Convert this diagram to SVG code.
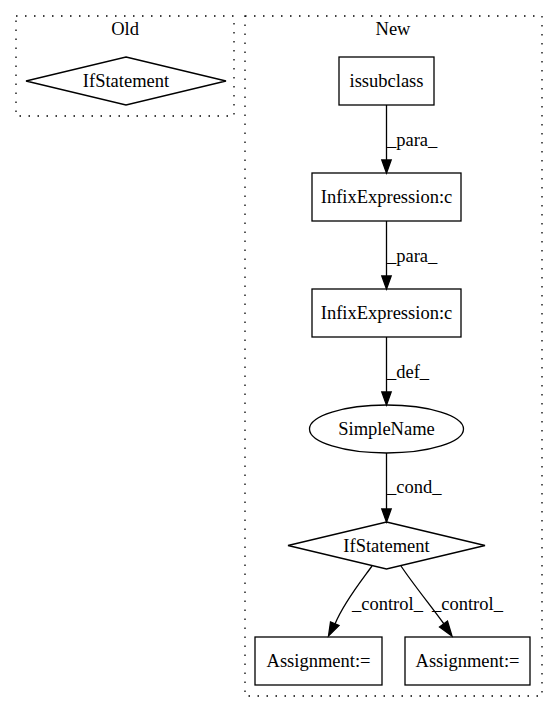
<svg xmlns="http://www.w3.org/2000/svg" width="557" height="712" viewBox="0 0 557 712">
<style>
text{font-family:"Liberation Serif","Times New Roman",serif;font-size:18.5px;fill:#000}
.m{text-anchor:middle}
.cl{fill:none;stroke:#000;stroke-width:1.3;stroke-dasharray:1.5,7.5}
.n{fill:none;stroke:#000;stroke-width:1.3}
.e{fill:none;stroke:#000;stroke-width:1.3}
.ah{fill:#000;stroke:#000;stroke-width:1.3}
</style>
<rect width="557" height="712" fill="#fff"/>
<g id="cluster_old">
<rect class="cl" x="16" y="16" width="218" height="100"/>
<text class="m" x="125" y="35">Old</text>
</g>
<g id="cluster_new">
<rect class="cl" x="245" y="16" width="297" height="680"/>
<text class="m" x="393" y="35">New</text>
</g>
<g id="old_if">
<polygon class="n" points="126,57 226,81 126,105 26,81"/>
<text class="m" x="126" y="87">IfStatement</text>
</g>
<g id="issubclass">
<rect class="n" x="339" y="57" width="95" height="48"/>
<text class="m" x="386.5" y="87">issubclass</text>
</g>
<g id="infix1">
<rect class="n" x="312" y="173" width="149" height="48"/>
<text class="m" x="386.5" y="203">InfixExpression:c</text>
</g>
<g id="infix2">
<rect class="n" x="312" y="289" width="149" height="48"/>
<text class="m" x="386.5" y="319">InfixExpression:c</text>
</g>
<g id="simplename">
<ellipse class="n" cx="386.5" cy="429" rx="77" ry="24"/>
<text class="m" x="386.5" y="435">SimpleName</text>
</g>
<g id="new_if">
<polygon class="n" points="386.5,522 485,545.5 386.5,569 288,545.5"/>
<text class="m" x="386.5" y="551.5">IfStatement</text>
</g>
<g id="assign1">
<rect class="n" x="255" y="637" width="127" height="48"/>
<text class="m" x="318.5" y="667">Assignment:=</text>
</g>
<g id="assign2">
<rect class="n" x="405" y="637" width="125" height="48"/>
<text class="m" x="467.5" y="667">Assignment:=</text>
</g>
<g id="edges">
<path class="e" d="M386.5,105 L386.5,160"/>
<polygon class="ah" points="381.8,160 386.5,173 391.2,160"/>
<text x="387" y="146">_para_</text>
<path class="e" d="M386.5,221 L386.5,276"/>
<polygon class="ah" points="381.8,276 386.5,289 391.2,276"/>
<text x="387" y="262">_para_</text>
<path class="e" d="M386.5,337 L386.5,392"/>
<polygon class="ah" points="381.8,392 386.5,405 391.2,392"/>
<text x="387" y="378">_def_</text>
<path class="e" d="M386.5,453 L386.5,509"/>
<polygon class="ah" points="381.8,509 386.5,522 391.2,509"/>
<text x="387" y="493">_cond_</text>
<path class="e" d="M372,566 C362,580 344,602 335,624"/>
<polygon class="ah" points="330.5,622 328.5,636 339,625.5"/>
<text x="352" y="610">_control_</text>
<path class="e" d="M401,566 C413,584 431,606 444,624"/>
<polygon class="ah" points="439.5,627 452,636 447.5,621"/>
<text x="432" y="610">_control_</text>
</g>
</svg>
